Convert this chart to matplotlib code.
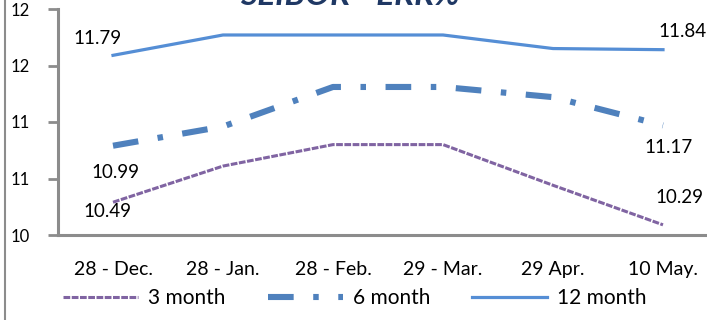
# SEIBOR - ERR% line chart, three tenors over six dates

import matplotlib.pyplot as plt
from matplotlib.ticker import FormatStrFormatter

plt.rcParams["font.family"] = ["Lato", "DejaVu Sans"]

# data
# ---
dates = ["28 - Dec.", "28 - Jan.", "28 - Feb.", "29 - Mar.", "29 Apr.", "10 May."]
m3 = [10.49, 10.81, 11.00, 11.00, 10.64, 10.29]
m6 = [10.99, 11.16, 11.51, 11.51, 11.42, 11.17]
m12 = [11.79, 11.97, 11.97, 11.97, 11.85, 11.84]

# first and last values get labels
lbl_m3 = ["10.49", "10.29"]
lbl_m6 = ["10.99", "11.17"]
lbl_m12 = ["11.79", "11.84"]

c3 = "#8064A2"
c6 = "#4F81BD"
c12 = "#558ED5"
grey = "#8C8C8C"

# plot
# ---
fig = plt.figure(figsize=(7.07, 3.2), dpi=100)
ax = fig.add_axes([58 / 707, 85 / 320, 660 / 707, 226 / 320])

x = range(len(dates))
ax.plot(x, m3, color=c3, lw=2.2, linestyle=(0, (2.2, 0.5)), label="3 month")
ax.plot(x, m6, color=c6, lw=4.4, linestyle=(0, (4.2, 3.2, 0.9, 3.2)),
        dash_capstyle="butt", label="6 month")
ax.plot(x, m12, color=c12, lw=2.3, label="12 month")

ax.set_xlim(-0.5, 5.5)
ax.set_ylim(10.2, 12.2)
ax.set_yticks([10.2, 10.7, 11.2, 11.7, 12.2])
ax.yaxis.set_major_formatter(FormatStrFormatter("%.0f"))
ax.set_xticks(list(x))
ax.set_xticklabels(dates, fontsize=14)
ax.tick_params(axis="x", length=0, pad=19)
ax.tick_params(axis="y", length=7, width=2, color=grey, labelsize=12, pad=13)

for side in ["top", "right"]:
    ax.spines[side].set_visible(False)
for side in ["left", "bottom"]:
    ax.spines[side].set_color(grey)
    ax.spines[side].set_linewidth(2.2)

# data labels
fs = 13.5
def label(txt, xi, yi, dx, dy):
    ax.annotate(txt, (xi, yi), xytext=(dx, dy), textcoords="offset points",
                ha="center", va="center", fontsize=fs)

label(lbl_m12[0], 0, m12[0], -11, 12)
label(lbl_m12[1], 5, m12[-1], 14, 13)
label(lbl_m6[0], 0, m6[0], 2, -19)
label(lbl_m6[1], 5, m6[-1], 4, -16)
label(lbl_m3[0], 0, m3[0], -4, -7)
label(lbl_m3[1], 5, m3[-1], 12, 20)

ax.legend(loc="center", bbox_to_anchor=(0.45, -0.28), ncol=3, frameon=False,
          fontsize=15, handlelength=3.6, columnspacing=2.0, handletextpad=0.5)

# title is cut by the top edge in the original
fig.text(0.495, 1.015, "SEIBOR - ERR%", ha="center", va="center", fontsize=24,
         fontweight="bold", fontstyle="italic", color="#1F3864")

# outer frame line on the left
fig.add_artist(plt.Line2D([5 / 707, 5 / 707], [0, 1], color=grey, lw=1.5))

fig.savefig("out.png", dpi=100)
plt.close()
